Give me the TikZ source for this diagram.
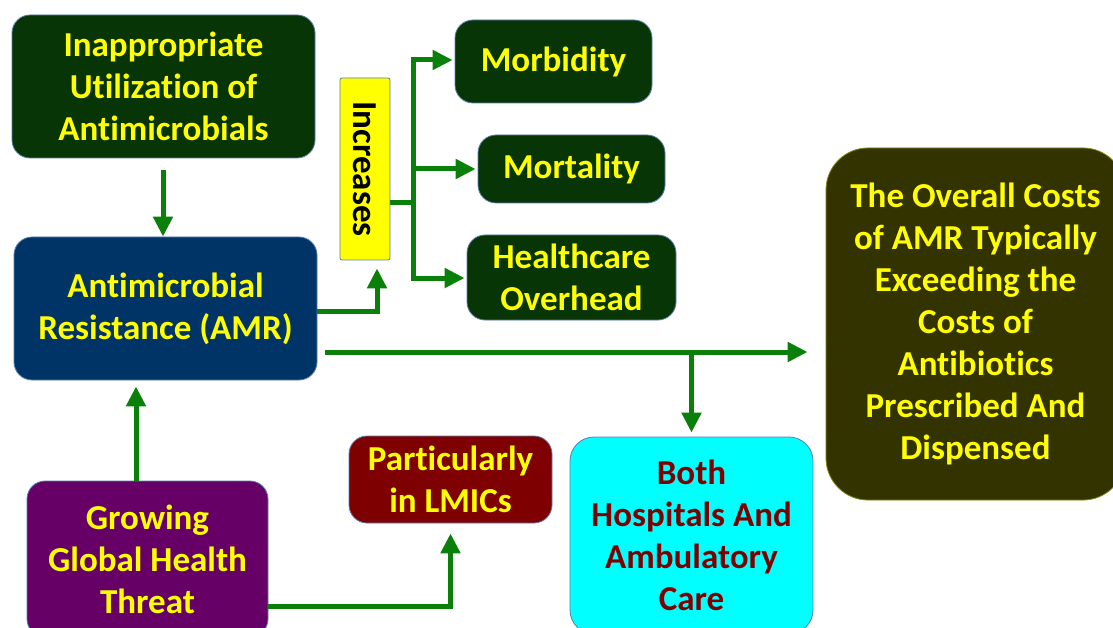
\documentclass[tikz,border=0pt]{standalone}
\usepackage{fontspec}
\setmainfont{Carlito}[RawFeature={-liga;-clig;-calt;-dlig}]
\usetikzlibrary{arrows.meta}
\definecolor{dgreen}{HTML}{083506}
\definecolor{dblue}{HTML}{003366}
\definecolor{dpurple}{HTML}{660066}
\definecolor{dmaroon}{HTML}{7F0000}
\definecolor{dcyan}{HTML}{00FFFF}
\definecolor{dolive}{HTML}{333300}
\definecolor{agreen}{HTML}{0A800A}
\definecolor{bordc}{HTML}{5A7DB0}
\definecolor{ytext}{HTML}{FFFF00}
\newcommand\diafont{\fontsize{35}{42}\selectfont\bfseries}
\begin{document}
\begin{tikzpicture}[x=1pt,y=-1pt,
  box/.style={draw=bordc, line width=0.8pt, rounded corners=18pt, text=ytext,
    align=center, font=\diafont, inner sep=0pt},
  arr/.style={draw=agreen, line width=5pt, -{Triangle[length=20pt,width=19pt]}},
  ln/.style={draw=agreen, line width=5pt}]
\path[use as bounding box] (0,0) rectangle (1113,628);
\clip (0,0) rectangle (1113,628);
\fill[white] (0,0) rectangle (1113,628);

\node[box, fill=dgreen, minimum width=303pt, minimum height=143pt] (inapp) at (163.5,86.5)
  {Inappropriate\\Utilization of\\Antimicrobials};
\node[box, fill=dblue, minimum width=303pt, minimum height=143pt] (amr) at (165.5,308.5)
  {Antimicrobial\\Resistance (AMR)};
\node[box, fill=ytext, text=black, rounded corners=2pt, minimum width=50pt, minimum height=182pt] (inc) at (365,169)
  {\rotatebox{-90}{Increases}};
\node[box, fill=dgreen, minimum width=197pt, minimum height=83pt] (morb) at (553.5,61.5) {Morbidity};
\node[box, fill=dgreen, minimum width=187pt, minimum height=68pt] (mort) at (571.5,169) {Mortality};
\node[box, fill=dgreen, minimum width=209pt, minimum height=85pt] (hc) at (571.5,277.5) {Healthcare\\Overhead};
\node[box, fill=dolive, draw=dolive!60!yellow, rounded corners=42pt, minimum width=299pt, minimum height=352pt] (cost) at (975.5,324)
  {The Overall Costs\\of AMR Typically\\Exceeding the\\Costs of\\Antibiotics\\Prescribed And\\Dispensed};
\node[box, fill=dmaroon, minimum width=203pt, minimum height=87pt] (lmic) at (450.5,479.5) {Particularly\\in LMICs};
\node[box, fill=dpurple, minimum width=241pt, minimum height=156pt] (grow) at (147.5,559)
  {Growing\\Global Health\\Threat};
\node[box, fill=dcyan, text=dmaroon, rounded corners=24pt, minimum width=243pt, minimum height=197pt] (both) at (691.5,535.5)
  {Both\\Hospitals And\\Ambulatory\\Care};

\coordinate (c1) at (136,0);
\coordinate (c2) at (163,0);
\coordinate (jm) at (413,203);
\coordinate (jt) at (413,60);
\coordinate (jb) at (413,278);
\coordinate (ja) at (0,352);
\coordinate (jg) at (0,606);

\draw[arr, shorten <=12pt] (inapp.south -| c2) -- (amr.north -| c2);
\draw[arr, shorten >=6pt] (grow.north -| c1) -- (amr.south -| c1);
\draw[arr, shorten >=8pt] ([yshift=-2.5pt]amr.east) -| ([xshift=12pt]inc.south);
\draw[ln] (inc.east |- jm) -- (jm);
\draw[ln, line cap=rect] (jt) -- (jb);
\draw[arr, shorten >=2pt] (jt) -- (morb.west |- jt);
\draw[arr, shorten >=2pt] (jt |- mort.west) -- (mort.west);
\draw[arr, shorten >=2pt] (jb) -- (hc.west |- jb);
\draw[arr, shorten <=8pt, shorten >=18pt] (amr.east |- ja) -- (cost.west |- ja);
\draw[arr, shorten >=4pt] (both.north |- ja) -- (both.north);
\draw[arr, shorten >=10pt] (grow.east |- jg) -| (lmic.south);
\end{tikzpicture}
\end{document}
